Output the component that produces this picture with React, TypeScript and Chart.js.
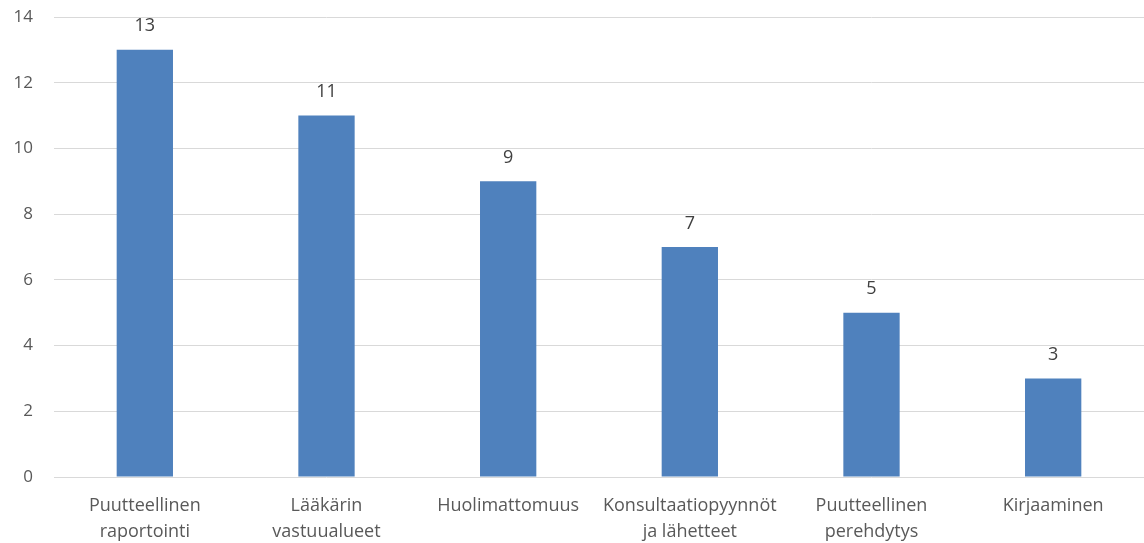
import React, { useEffect, useRef } from "react";
import { Chart, registerables } from "chart.js";

Chart.register(...registerables);

const categories: string[][] = [
  ["Puutteellinen", "raportointi"],
  ["Lääkärin", "vastuualueet"],
  ["Huolimattomuus"],
  ["Konsultaatiopyynnöt", "ja lähetteet"],
  ["Puutteellinen", "perehdytys"],
  ["Kirjaaminen"],
];
const counts: number[] = [13, 11, 9, 7, 5, 3];
const yTicks = { min: 0, max: 14, step: 2 };

const FONT = "'Open Sans', sans-serif";

const valueLabels = {
  id: "valueLabels",
  afterDatasetsDraw(chart: Chart) {
    const ctx = chart.ctx;
    const meta = chart.getDatasetMeta(0);
    const data = chart.data.datasets[0].data as number[];
    ctx.save();
    ctx.font = `18px ${FONT}`;
    ctx.fillStyle = "#404040";
    ctx.textAlign = "center";
    ctx.textBaseline = "alphabetic";
    meta.data.forEach((bar: any, i: number) => {
      ctx.fillText(String(data[i]), bar.x, bar.y - 18.5);
    });
    ctx.restore();
  },
};

export default function App() {
  const ref = useRef<HTMLCanvasElement>(null);
  useEffect(() => {
    if (!ref.current) return;
    const chart = new Chart(ref.current, {
      type: "bar",
      data: {
        labels: categories,
        datasets: [
          {
            data: counts,
            backgroundColor: "#4F81BD",
            categoryPercentage: 1,
            barPercentage: 0.31,
          },
        ],
      },
      options: {
        animation: false,
        responsive: false,
        maintainAspectRatio: false,
        layout: { padding: { top: 17, right: 0, left: 0, bottom: 0 } },
        plugins: { legend: { display: false }, tooltip: { enabled: false } },
        scales: {
          x: {
            grid: { display: false },
            border: { display: false },
            ticks: {
              color: "#595959",
              font: { family: FONT, size: 18, lineHeight: 1.45 },
              maxRotation: 0,
              autoSkip: false,
              padding: 8,
            },
            afterFit: (s: any) => {
              s.height = 66;
              s.paddingLeft = 0;
              s.paddingRight = 0;
            },
          },
          y: {
            min: yTicks.min,
            max: yTicks.max,
            grid: { color: "#D9D9D9", lineWidth: 1, drawTicks: false },
            border: { display: false },
            ticks: {
              stepSize: yTicks.step,
              color: "#595959",
              font: { family: FONT, size: 17 },
              padding: 21,
            },
            afterFit: (s: any) => {
              s.width = 54;
              s.paddingTop = 0;
              s.paddingBottom = 0;
            },
          },
        },
      },
      plugins: [valueLabels],
    });
    return () => chart.destroy();
  }, []);
  return (
    <div style={{ position: "fixed", left: 0, top: 0, width: 1144, height: 543, background: "#fff" }}>
      <canvas ref={ref} width={1144} height={543} />
    </div>
  );
}
